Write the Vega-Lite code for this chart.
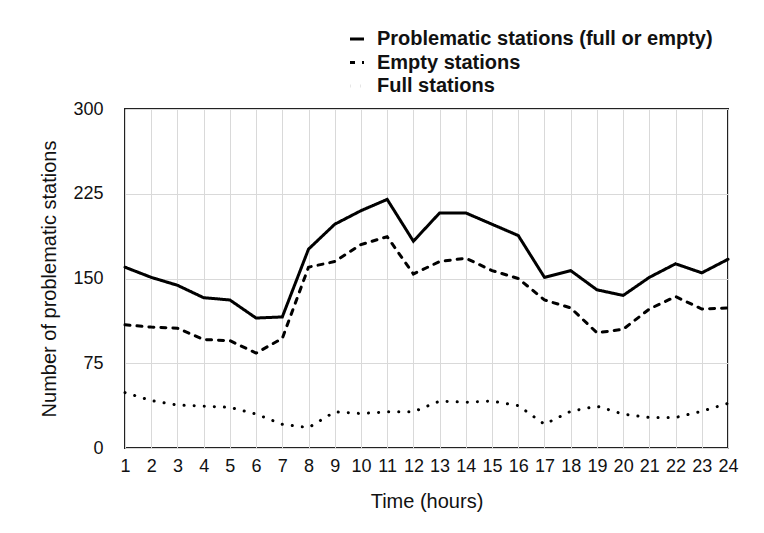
{
  "$schema": "https://vega.github.io/schema/vega-lite/v6.json",
  "autosize": "none",
  "width": 603,
  "height": 339,
  "padding": {"left": 125, "top": 109, "right": 36, "bottom": 85},
  "background": "white",
  "config": {
    "font": "Liberation Sans",
    "view": {"stroke": "#222222", "strokeWidth": 2},
    "axis": {"labelFont": "Liberation Sans", "titleFont": "Liberation Sans", "labelColor": "#111", "titleColor": "#111", "titleFontWeight": "normal", "gridColor": "#d9d9d9", "gridWidth": 1, "domain": false, "ticks": false}
  },
  "data": {
    "values": [
      {"hour": 1, "series": "Problematic stations (full or empty)", "value": 160},
      {"hour": 2, "series": "Problematic stations (full or empty)", "value": 151},
      {"hour": 3, "series": "Problematic stations (full or empty)", "value": 144},
      {"hour": 4, "series": "Problematic stations (full or empty)", "value": 133},
      {"hour": 5, "series": "Problematic stations (full or empty)", "value": 131},
      {"hour": 6, "series": "Problematic stations (full or empty)", "value": 115},
      {"hour": 7, "series": "Problematic stations (full or empty)", "value": 116},
      {"hour": 8, "series": "Problematic stations (full or empty)", "value": 176},
      {"hour": 9, "series": "Problematic stations (full or empty)", "value": 198},
      {"hour": 10, "series": "Problematic stations (full or empty)", "value": 210},
      {"hour": 11, "series": "Problematic stations (full or empty)", "value": 220},
      {"hour": 12, "series": "Problematic stations (full or empty)", "value": 183},
      {"hour": 13, "series": "Problematic stations (full or empty)", "value": 208},
      {"hour": 14, "series": "Problematic stations (full or empty)", "value": 208},
      {"hour": 15, "series": "Problematic stations (full or empty)", "value": 198},
      {"hour": 16, "series": "Problematic stations (full or empty)", "value": 188},
      {"hour": 17, "series": "Problematic stations (full or empty)", "value": 151},
      {"hour": 18, "series": "Problematic stations (full or empty)", "value": 157},
      {"hour": 19, "series": "Problematic stations (full or empty)", "value": 140},
      {"hour": 20, "series": "Problematic stations (full or empty)", "value": 135},
      {"hour": 21, "series": "Problematic stations (full or empty)", "value": 151},
      {"hour": 22, "series": "Problematic stations (full or empty)", "value": 163},
      {"hour": 23, "series": "Problematic stations (full or empty)", "value": 155},
      {"hour": 24, "series": "Problematic stations (full or empty)", "value": 167},
      {"hour": 1, "series": "Empty stations", "value": 109},
      {"hour": 2, "series": "Empty stations", "value": 107},
      {"hour": 3, "series": "Empty stations", "value": 106},
      {"hour": 4, "series": "Empty stations", "value": 96},
      {"hour": 5, "series": "Empty stations", "value": 95},
      {"hour": 6, "series": "Empty stations", "value": 84},
      {"hour": 7, "series": "Empty stations", "value": 97},
      {"hour": 8, "series": "Empty stations", "value": 160},
      {"hour": 9, "series": "Empty stations", "value": 165},
      {"hour": 10, "series": "Empty stations", "value": 180},
      {"hour": 11, "series": "Empty stations", "value": 187},
      {"hour": 12, "series": "Empty stations", "value": 154},
      {"hour": 13, "series": "Empty stations", "value": 165},
      {"hour": 14, "series": "Empty stations", "value": 168},
      {"hour": 15, "series": "Empty stations", "value": 157},
      {"hour": 16, "series": "Empty stations", "value": 150},
      {"hour": 17, "series": "Empty stations", "value": 131},
      {"hour": 18, "series": "Empty stations", "value": 124},
      {"hour": 19, "series": "Empty stations", "value": 102},
      {"hour": 20, "series": "Empty stations", "value": 105},
      {"hour": 21, "series": "Empty stations", "value": 123},
      {"hour": 22, "series": "Empty stations", "value": 134},
      {"hour": 23, "series": "Empty stations", "value": 123},
      {"hour": 24, "series": "Empty stations", "value": 124},
      {"hour": 1, "series": "Full stations", "value": 49},
      {"hour": 2, "series": "Full stations", "value": 42},
      {"hour": 3, "series": "Full stations", "value": 38},
      {"hour": 4, "series": "Full stations", "value": 37},
      {"hour": 5, "series": "Full stations", "value": 36},
      {"hour": 6, "series": "Full stations", "value": 30},
      {"hour": 7, "series": "Full stations", "value": 21},
      {"hour": 8, "series": "Full stations", "value": 18},
      {"hour": 9, "series": "Full stations", "value": 32},
      {"hour": 10, "series": "Full stations", "value": 30.5},
      {"hour": 11, "series": "Full stations", "value": 32},
      {"hour": 12, "series": "Full stations", "value": 32},
      {"hour": 13, "series": "Full stations", "value": 41.5},
      {"hour": 14, "series": "Full stations", "value": 40.5},
      {"hour": 15, "series": "Full stations", "value": 41.5},
      {"hour": 16, "series": "Full stations", "value": 37.5},
      {"hour": 17, "series": "Full stations", "value": 21},
      {"hour": 18, "series": "Full stations", "value": 32.5},
      {"hour": 19, "series": "Full stations", "value": 37},
      {"hour": 20, "series": "Full stations", "value": 30},
      {"hour": 21, "series": "Full stations", "value": 27},
      {"hour": 22, "series": "Full stations", "value": 27},
      {"hour": 23, "series": "Full stations", "value": 32.5},
      {"hour": 24, "series": "Full stations", "value": 39.5}
    ]
  },
  "mark": {"type": "line", "color": "black", "strokeWidth": 3, "strokeCap": "round", "strokeJoin": "miter"},
  "encoding": {
    "x": {
      "field": "hour", "type": "quantitative",
      "scale": {"domain": [1, 24], "nice": false, "zero": false},
      "axis": {"values": [1,2,3,4,5,6,7,8,9,10,11,12,13,14,15,16,17,18,19,20,21,22,23,24], "labelFontSize": 18, "labelPadding": 9, "title": "Time (hours)", "titleFontSize": 20, "titlePadding": 16, "labelFlush": false, "labelOverlap": false}
    },
    "y": {
      "field": "value", "type": "quantitative",
      "scale": {"domain": [0, 300], "nice": false},
      "axis": {"values": [0, 75, 150, 225, 300], "labelFontSize": 18, "labelPadding": 22, "title": "Number of problematic stations", "titleFontSize": 20, "titlePadding": 13}
    },
    "strokeDash": {
      "field": "series", "type": "nominal",
      "scale": {"domain": ["Problematic stations (full or empty)", "Empty stations", "Full stations"], "range": [[1, 0], [5, 7], [0.1, 10]]},
      "legend": {
        "orient": "none", "legendX": 222, "legendY": -80, "title": null,
        "labelFontSize": 20, "labelFontWeight": "bold", "labelColor": "#111", "labelFont": "Liberation Sans", "labelLimit": 0,
        "symbolType": "stroke", "symbolSize": 196, "symbolStrokeWidth": 3, "symbolStrokeColor": "black",
        "rowPadding": 3.5, "labelOffset": 10
      }
    }
  }
}
